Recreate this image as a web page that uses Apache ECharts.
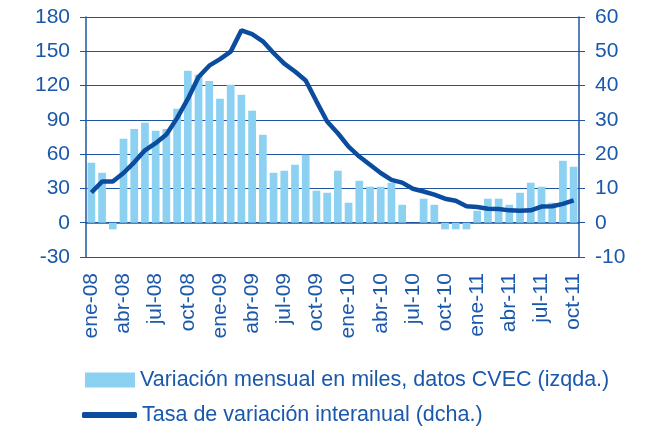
<!DOCTYPE html>
<html>
<head>
<meta charset="utf-8">
<script src="https://cdn.jsdelivr.net/npm/echarts@6/dist/echarts.min.js"></script>
<style>
  html, body { margin: 0; padding: 0; background: #fff; }
  #main { width: 652px; height: 426px; }
</style>
</head>
<body>
<div id="main"></div>
<script>
const monthNames = ["ene", "feb", "mar", "abr", "may", "jun", "jul", "ago", "sep", "oct", "nov", "dic"];
const years = ["08", "09", "10", "11"];

// ene-08 .. oct-11
const categories = [];
years.forEach(y => monthNames.forEach(m => categories.push(m + "-" + y)));
categories.length = 46;

// monthly change, thousands (left axis)
const monthlyChange = [
  52.5, 43.7, -5.8, 73.5, 82, 87.5, 80.5, 82, 99.7, 133, 129.5, 124,
  108.5, 120.7, 112, 98, 77, 43.7, 45.5, 50.7, 59.5, 28, 26.2, 45.5,
  17.5, 36.7, 31.5, 31.5, 35, 15.7, 0, 21, 15.7, -5.8, -5.8, -5.8,
  10.5, 21, 21, 15.7, 26.2, 35, 31.5, 17.5, 54.2, 49
];

// year-on-year rate (right axis)
const yoyRate = [
  8.8, 12.0, 12.0, 14.5, 17.6, 21.1, 23.2, 25.7, 30.5, 36.1, 42.5, 45.8,
  47.7, 49.9, 56.1, 55.0, 52.9, 49.5, 46.4, 44.1, 41.5, 35.4, 29.5, 26.1,
  22.2, 19.3, 16.9, 14.5, 12.5, 11.7, 9.9, 9.1, 8.2, 7.0, 6.4, 4.8,
  4.6, 4.1, 4.0, 3.6, 3.5, 3.6, 4.7, 4.8, 5.5, 6.5
];

const barName = "Variación mensual en miles, datos CVEC (izqda.)";
const lineName = "Tasa de variación interanual (dcha.)";

const axisBlue = "#1F54A0";
const textBlue = "#1A58AC";
const font = "Liberation Sans";

const chart = echarts.init(document.getElementById("main"));

chart.setOption({
  animation: false,
  textStyle: { fontFamily: font },
  grid: { left: 86, right: 73, top: 17, bottom: 169 },
  legend: [
    {
      data: [{ name: barName, icon: "rect" }],
      left: 80, top: 364,
      itemWidth: 50, itemHeight: 15, itemGap: 4,
      textStyle: { color: textBlue, fontSize: 21.5, fontFamily: font }
    },
    {
      data: [{ name: lineName, icon: "roundRect" }],
      left: 77, top: 399,
      itemWidth: 55, itemHeight: 6, itemGap: 4,
      textStyle: { color: textBlue, fontSize: 21.5, fontFamily: font }
    }
  ],
  xAxis: {
    type: "category",
    data: categories,
    axisLine: { onZero: true, lineStyle: { color: axisBlue, width: 1.5 } },
    axisTick: { interval: 2, length: 7, lineStyle: { color: axisBlue, width: 1.5 } },
    axisLabel: {
      interval: 2, rotate: 90, margin: 16,
      color: textBlue, fontSize: 21, fontFamily: font
    }
  },
  yAxis: [
    {
      type: "value", min: -30, max: 180, interval: 30,
      axisLine: { show: true, lineStyle: { color: axisBlue, width: 1.5 } },
      axisTick: { show: true, length: 6, lineStyle: { color: axisBlue } },
      axisLabel: { color: textBlue, fontSize: 21, margin: 16, fontFamily: font },
      splitLine: { show: true, lineStyle: { color: axisBlue, width: 1 } }
    },
    {
      type: "value", min: -10, max: 60, interval: 10,
      axisLine: { show: true, lineStyle: { color: axisBlue, width: 1.5 } },
      axisTick: { show: true, length: 6, lineStyle: { color: axisBlue } },
      axisLabel: { color: textBlue, fontSize: 21, margin: 16, fontFamily: font },
      splitLine: { show: false }
    }
  ],
  series: [
    {
      name: barName,
      type: "bar",
      yAxisIndex: 0,
      data: monthlyChange,
      barCategoryGap: "28%",
      itemStyle: { color: "#8CD1F1" }
    },
    {
      name: lineName,
      type: "line",
      yAxisIndex: 1,
      data: yoyRate,
      symbol: "none",
      lineStyle: { color: "#0B4C9F", width: 4.5 },
      itemStyle: { color: "#0B4C9F" }
    }
  ]
});
</script>
</body>
</html>
